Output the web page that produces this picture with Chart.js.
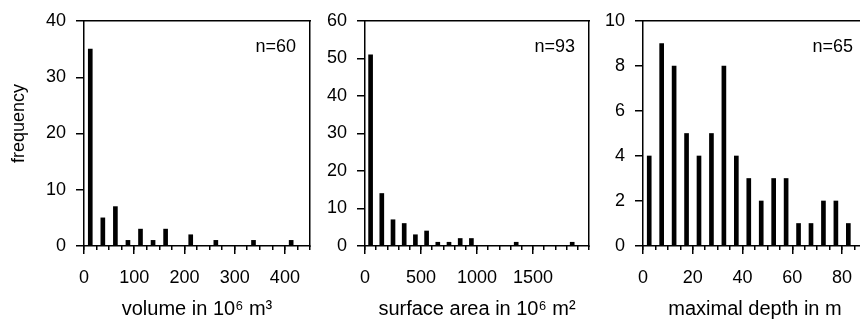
<!DOCTYPE html>
<html>
<head>
<meta charset="utf-8">
<script src="https://cdn.jsdelivr.net/npm/chart.js@4.4.0/dist/chart.umd.min.js"></script>
<style>
  html, body { margin: 0; padding: 0; background: #fff; }
  #wrap { position: relative; width: 860px; height: 322px; overflow: hidden; }
  #wrap canvas { position: absolute; left: 0; top: 0; }
</style>
</head>
<body>
<div id="wrap">
  <canvas id="volumeChart" width="900" height="322"></canvas>
  <canvas id="areaChart" width="900" height="322"></canvas>
  <canvas id="depthChart" width="900" height="322"></canvas>
</div>
<script>
// --- Data ---
const volumeBins   = [12.5, 37.5, 62.5, 87.5, 112.5, 137.5, 162.5, 187.5, 212.5, 237.5, 262.5, 287.5, 312.5, 337.5, 362.5, 387.5, 412.5, 437.5];
const volumeCounts = [35, 5, 7, 1, 3, 1, 3, 0, 2, 0, 1, 0, 0, 1, 0, 0, 1, 0];
const volumeXTicks = [0, 100, 200, 300, 400];
const volumeYTicks = [0, 10, 20, 30, 40];

const areaBins   = [50, 150, 250, 350, 450, 550, 650, 750, 850, 950, 1050, 1150, 1250, 1350, 1450, 1550, 1650, 1750, 1850, 1950];
const areaCounts = [51, 14, 7, 6, 3, 4, 1, 1, 2, 2, 0, 0, 0, 1, 0, 0, 0, 0, 1, 0];
const areaXTicks = [0, 500, 1000, 1500];
const areaYTicks = [0, 10, 20, 30, 40, 50, 60];

const depthBins   = [2.5, 7.5, 12.5, 17.5, 22.5, 27.5, 32.5, 37.5, 42.5, 47.5, 52.5, 57.5, 62.5, 67.5, 72.5, 77.5, 82.5];
const depthCounts = [4, 9, 8, 5, 4, 5, 8, 4, 3, 2, 3, 3, 1, 1, 2, 2, 1];
const depthXTicks = [0, 20, 40, 60, 80];
const depthYTicks = [0, 2, 4, 6, 8, 10];

// --- Look ---
const INK = '#000';
const FONT = "'Liberation Sans', Arial, sans-serif";
const CANVAS_W = 900;
const CANVAS_H = 322;
const AXIS_W = 84;      // room for y tick labels
const TOP = 21;         // top of plot frame
const BOTTOM = 246;     // x axis line

// "n=.." text in the top right corner of each panel
const nLabelPlugin = {
    id: 'nLabel',
    afterDraw(chart, args, opts) {
        const { ctx, chartArea } = chart;
        ctx.save();
        ctx.font = '18px ' + FONT;
        ctx.fillStyle = INK;
        ctx.textAlign = 'right';
        ctx.textBaseline = 'alphabetic';
        ctx.fillText(opts.text, chartArea.right - 14, chartArea.top + 31);
        ctx.restore();
    }
};

function frameAxis(position) {
    const horizontal = position === 'top';
    return {
        type: 'linear', position: position, min: 0, max: 1,
        ticks: { display: false },
        grid: { display: false, drawTicks: false },
        border: { color: INK, width: 1.5 },
        afterFit: s => { if (horizontal) s.height = 0; else s.width = 0; }
    };
}

function makePanel(id, p) {
    return new Chart(document.getElementById(id), {
        type: 'bar',
        data: {
            datasets: [{
                data: p.bins.map((b, i) => ({ x: b, y: p.counts[i] })),
                backgroundColor: INK,
                borderWidth: 0,
                barThickness: 4
            }]
        },
        options: {
            responsive: false,
            animation: false,
            layout: { padding: { left: p.left - AXIS_W, right: CANVAS_W - p.right, top: TOP, bottom: 0 } },
            plugins: {
                legend: { display: false },
                tooltip: { enabled: false },
                nLabel: { text: p.n }
            },
            scales: {
                x: {
                    type: 'linear', position: 'bottom', weight: 1,
                    min: 0, max: p.xMax, offset: false,
                    afterBuildTicks: s => { s.ticks = p.xTicks.map(v => ({ value: v })); },
                    afterFit: s => { s.height = CANVAS_H - BOTTOM; },
                    ticks: { color: INK, font: { size: 18, family: FONT }, padding: 13, maxRotation: 0, autoSkip: false, callback: v => String(v) },
                    grid: { drawOnChartArea: false, offset: false, color: INK, lineWidth: 1.5, tickLength: 8 },
                    border: { color: INK, width: 1.5 },
                    title: { display: true, text: p.xTitle, color: INK, font: { size: 20, family: FONT }, padding: { top: 0, bottom: 1 } }
                },
                xMinor: {
                    type: 'linear', position: 'bottom', weight: 0,
                    min: 0, max: p.xMax, offset: false,
                    ticks: { display: false, stepSize: p.binWidth },
                    grid: { drawOnChartArea: false, offset: false, color: INK, lineWidth: 1.5, tickLength: 4 },
                    border: { display: false },
                    afterFit: s => { s.height = 0; }
                },
                xTop: frameAxis('top'),
                y: {
                    min: 0, max: p.yMax,
                    afterBuildTicks: s => { s.ticks = p.yTicks.map(v => ({ value: v })); },
                    afterFit: s => { s.width = AXIS_W; },
                    ticks: { color: INK, font: { size: 18, family: FONT }, padding: 10 },
                    grid: { drawOnChartArea: false, color: INK, lineWidth: 1.5, tickLength: 8 },
                    border: { color: INK, width: 1.5 },
                    title: p.yTitle
                        ? { display: true, text: p.yTitle, color: INK, font: { size: 18, family: FONT }, padding: { top: 8, bottom: 0 } }
                        : { display: false }
                },
                yRight: frameAxis('right')
            }
        },
        plugins: [nLabelPlugin]
    });
}

window.onload = () => {
    makePanel('volumeChart', {
        bins: volumeBins, counts: volumeCounts, xTicks: volumeXTicks, yTicks: volumeYTicks,
        binWidth: 25, xMax: 450, yMax: 40, left: 84, right: 310, n: 'n=60',
        xTitle: 'volume in 10\u2076 m\u00B3', yTitle: '    frequency'
    });
    makePanel('areaChart', {
        bins: areaBins, counts: areaCounts, xTicks: areaXTicks, yTicks: areaYTicks,
        binWidth: 100, xMax: 2000, yMax: 60, left: 365, right: 589, n: 'n=93',
        xTitle: 'surface area in 10\u2076 m\u00B2'
    });
    makePanel('depthChart', {
        bins: depthBins, counts: depthCounts, xTicks: depthXTicks, yTicks: depthYTicks,
        binWidth: 5, xMax: 90, yMax: 10, left: 643, right: 867, n: 'n=65',
        xTitle: 'maximal depth in m'
    });
};
</script>
</body>
</html>
